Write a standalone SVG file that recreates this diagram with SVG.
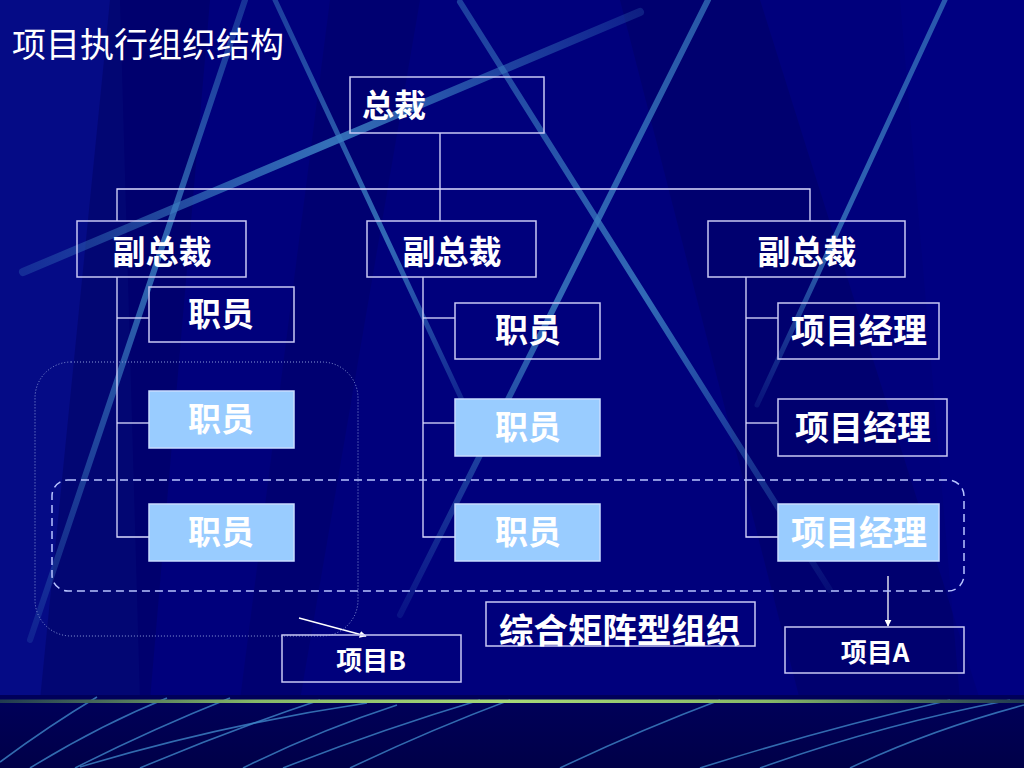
<svg xmlns="http://www.w3.org/2000/svg" width="1024" height="768" viewBox="0 0 1024 768">
<defs>
<linearGradient id="green" x1="0" y1="0" x2="1" y2="0">
<stop offset="0" stop-color="#203a50"/>
<stop offset="0.25" stop-color="#86b868"/>
<stop offset="0.5" stop-color="#a6d878"/>
<stop offset="0.75" stop-color="#86b868"/>
<stop offset="1" stop-color="#203a50"/>
</linearGradient>
<linearGradient id="bottomBg" x1="0" y1="0" x2="0" y2="1">
<stop offset="0" stop-color="#00005a"/>
<stop offset="1" stop-color="#000048"/>
</linearGradient>
<linearGradient id="fadeA" gradientUnits="userSpaceOnUse" x1="245" y1="0" x2="30" y2="640">
<stop offset="0" stop-color="#3a7cc0" stop-opacity="0.4"/><stop offset="0.4" stop-color="#3a7cc0" stop-opacity="0.85"/><stop offset="1" stop-color="#3a7cc0" stop-opacity="0.2"/>
</linearGradient>
<linearGradient id="fadeB" gradientUnits="userSpaceOnUse" x1="275" y1="0" x2="462" y2="400">
<stop offset="0" stop-color="#3a7cc0" stop-opacity="0.5"/><stop offset="0.6" stop-color="#3a7cc0" stop-opacity="0.85"/><stop offset="1" stop-color="#3a7cc0" stop-opacity="0.3"/>
</linearGradient>
<linearGradient id="fadeC" gradientUnits="userSpaceOnUse" x1="460" y1="2" x2="830" y2="590">
<stop offset="0" stop-color="#3a7cc0" stop-opacity="0.5"/><stop offset="0.5" stop-color="#3a7cc0" stop-opacity="0.85"/><stop offset="1" stop-color="#3a7cc0" stop-opacity="0.1"/>
</linearGradient>
<linearGradient id="fadeD" gradientUnits="userSpaceOnUse" x1="23" y1="272" x2="640" y2="12">
<stop offset="0" stop-color="#3a7cc0" stop-opacity="0.3"/><stop offset="0.5" stop-color="#3a7cc0" stop-opacity="0.9"/><stop offset="1" stop-color="#3a7cc0" stop-opacity="0.25"/>
</linearGradient>
<linearGradient id="fadeE" gradientUnits="userSpaceOnUse" x1="708" y1="0" x2="400" y2="615">
<stop offset="0" stop-color="#3a7cc0" stop-opacity="0.7"/><stop offset="0.5" stop-color="#3a7cc0" stop-opacity="0.85"/><stop offset="1" stop-color="#3a7cc0" stop-opacity="0.15"/>
</linearGradient>
<linearGradient id="fadeF" gradientUnits="userSpaceOnUse" x1="945" y1="0" x2="757" y2="405">
<stop offset="0" stop-color="#3a7cc0" stop-opacity="0.7"/><stop offset="0.6" stop-color="#3a7cc0" stop-opacity="0.8"/><stop offset="1" stop-color="#3a7cc0" stop-opacity="0.15"/>
</linearGradient>
<marker id="arr" viewBox="0 0 10 10" refX="9" refY="5" markerWidth="7" markerHeight="7" orient="auto" markerUnits="userSpaceOnUse">
<path d="M0,0 L10,5 L0,10 z" fill="#ffffff"/>
</marker>
<style>
.deco{stroke-linecap:round;fill:none}
.thin{stroke:#3f86c8;stroke-width:1.6;fill:none;opacity:0.8}
.box{fill:none;stroke:#c8c8f4;stroke-width:1.5}
.boxf{fill:#99ccff;stroke:#c8dcff;stroke-width:1.5}
.conn{stroke:#dcdcff;stroke-width:1.3;fill:none}
.t{font-family:"Noto Sans CJK SC","Noto Sans",sans-serif;fill:#ffffff;font-weight:bold}
.c{text-anchor:middle}
</style>
</defs>

<!-- background -->
<rect x="0" y="0" width="1024" height="768" fill="#00007c"/>
<polygon points="0,0 120,0 140,700 0,700" fill="#0a1590" opacity="0.5"/>
<polygon points="110,0 210,0 150,700 40,700" fill="#00005e" opacity="0.45"/>
<polygon points="330,0 420,0 300,700 240,700" fill="#00005e" opacity="0.35"/>
<polygon points="620,0 760,0 980,700 800,700" fill="#000060" opacity="0.45"/>
<polygon points="900,0 1024,0 1024,700 960,700" fill="#00008a" opacity="0.4"/>

<!-- decorative lines -->
<g id="decor">
<line class="deco" x1="245" y1="0" x2="30" y2="640" stroke="url(#fadeA)" stroke-width="6"/>
<line class="deco" x1="275" y1="0" x2="462" y2="400" stroke="url(#fadeB)" stroke-width="5"/>
<line class="deco" x1="460" y1="2" x2="830" y2="590" stroke="url(#fadeC)" stroke-width="6"/>
<line class="deco" x1="23" y1="272" x2="640" y2="12" stroke="url(#fadeD)" stroke-width="8"/>
<line class="deco" x1="708" y1="0" x2="400" y2="615" stroke="url(#fadeE)" stroke-width="6"/>
<line class="deco" x1="945" y1="0" x2="757" y2="405" stroke="url(#fadeF)" stroke-width="5"/>
</g>

<!-- bottom band -->
<rect x="0" y="695" width="1024" height="73" fill="url(#bottomBg)"/>
<g id="bottomLines">
<path class="thin" d="M0,762 Q50,725 97,697"/>
<path class="thin" d="M30,768 Q100,725 167,698"/>
<path class="thin" d="M75,768 Q150,730 230,698"/>
<path class="thin" d="M80,767 Q220,725 367,703"/>
<path class="thin" d="M140,768 Q230,730 320,700"/>
<path class="thin" d="M243,768 Q320,730 397,705"/>
<path class="thin" d="M283,768 Q380,730 480,700"/>
<path class="thin" d="M350,768 Q430,730 510,700"/>
<path class="thin" d="M560,768 Q640,730 720,700"/>
<path class="thin" d="M700,768 Q820,730 950,700"/>
<path class="thin" d="M760,768 Q880,725 1010,700"/>
<path class="thin" d="M850,768 Q930,730 1024,705"/>
</g>
<rect x="0" y="699.5" width="1024" height="3.5" fill="url(#green)"/>

<!-- title -->
<text x="12" y="57" font-family="'Noto Sans CJK SC','Noto Sans',sans-serif" font-size="34" fill="#ffffff">项目执行组织结构</text>

<!-- connectors -->
<g id="connectors">
<polyline class="conn" points="440,133 440,221"/>
<polyline class="conn" points="117,221 117,189 810,189 810,221"/>
<polyline class="conn" points="117,277 117,537 149,537"/>
<line class="conn" x1="117" y1="318" x2="149" y2="318"/>
<line class="conn" x1="117" y1="423" x2="149" y2="423"/>
<polyline class="conn" points="423,277 423,537 455,537"/>
<line class="conn" x1="423" y1="318" x2="455" y2="318"/>
<line class="conn" x1="423" y1="423" x2="455" y2="423"/>
<polyline class="conn" points="746,277 746,537 778,537"/>
<line class="conn" x1="746" y1="318" x2="778" y2="318"/>
<line class="conn" x1="746" y1="423" x2="778" y2="423"/>
<line x1="299" y1="618" x2="366" y2="636" stroke="#ffffff" stroke-width="1.3" marker-end="url(#arr)"/>
<line x1="888" y1="576" x2="888" y2="626" stroke="#ffffff" stroke-width="1.3" marker-end="url(#arr)"/>
</g>

<!-- groupings -->
<rect id="groupB" x="35" y="362" width="323" height="274" rx="36" fill="none" stroke="#8a9ad8" stroke-width="1" stroke-dasharray="1,2"/>
<rect id="groupA" x="52" y="480" width="912" height="111" rx="16" fill="none" stroke="#b8c4ff" stroke-width="1.5" stroke-dasharray="8,5"/>

<!-- nodes -->
<g id="president"><rect class="box" x="350" y="77" width="194" height="56"/><text class="t" x="362" y="117" font-size="32">总裁</text></g>
<g id="vp1"><rect class="box" x="77" y="221" width="169" height="56"/><text class="t c" x="162" y="264" font-size="33">副总裁</text></g>
<g id="vp2"><rect class="box" x="367" y="221" width="169" height="56"/><text class="t c" x="452" y="264" font-size="33">副总裁</text></g>
<g id="vp3"><rect class="box" x="708" y="221" width="197" height="56"/><text class="t c" x="807" y="264" font-size="33">副总裁</text></g>

<g id="staff1a"><rect class="box" x="149" y="287" width="145" height="55"/><text class="t c" x="221" y="326" font-size="33">职员</text></g>
<g id="staff1b"><rect class="boxf" x="149" y="391" width="145" height="57"/><text class="t c" x="221" y="431" font-size="33">职员</text></g>
<g id="staff1c"><rect class="boxf" x="149" y="504" width="145" height="57"/><text class="t c" x="221" y="544" font-size="33">职员</text></g>

<g id="staff2a"><rect class="box" x="455" y="303" width="145" height="56"/><text class="t c" x="528" y="342" font-size="33">职员</text></g>
<g id="staff2b"><rect class="boxf" x="455" y="399" width="145" height="57"/><text class="t c" x="528" y="439" font-size="33">职员</text></g>
<g id="staff2c"><rect class="boxf" x="455" y="504" width="145" height="57"/><text class="t c" x="528" y="544" font-size="33">职员</text></g>

<g id="pm1"><rect class="box" x="778" y="303" width="161" height="56"/><text class="t c" x="859" y="343" font-size="34">项目经理</text></g>
<g id="pm2"><rect class="box" x="778" y="399" width="169" height="57"/><text class="t c" x="863" y="440" font-size="34">项目经理</text></g>
<g id="pm3"><rect class="boxf" x="778" y="504" width="161" height="57"/><text class="t c" x="859" y="545" font-size="34">项目经理</text></g>

<g id="matrixLabel"><rect class="box" x="486" y="602" width="269" height="44"/><text class="t" x="499" y="643" font-size="34.5" font-weight="500">综合矩阵型组织</text></g>
<g id="projectB"><rect class="box" x="282" y="635" width="179" height="47"/><text class="t c" x="371" y="670" font-size="26">项目B</text></g>
<g id="projectA"><rect class="box" x="785" y="627" width="179" height="46"/><text class="t c" x="875" y="662" font-size="26">项目A</text></g>
</svg>
